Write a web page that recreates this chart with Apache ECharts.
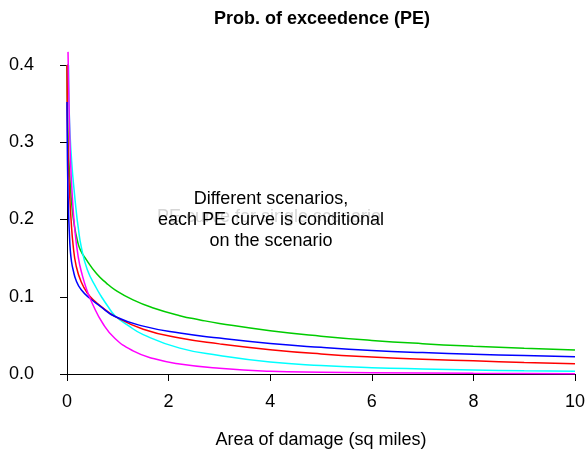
<!DOCTYPE html>
<html>
<head>
<meta charset="utf-8">
<script src="https://cdn.jsdelivr.net/npm/echarts@6/dist/echarts.min.js"></script>
<style>html,body{margin:0;padding:0;background:#fff;overflow:hidden;}#c{position:absolute;left:0;top:0;width:587px;height:450px;}</style>
</head>
<body>
<div id="c"></div>
<script>
const titleText = 'Prob. of exceedence (PE)';
const xTitle = 'Area of damage (sq miles)';
const noteLines = ['Different scenarios,', 'each PE curve is conditional', 'on the scenario'];
const ghostText = 'PE curve for single scenario';

const xGreen = [0, 0.005, 0.015, 0.03, 0.06, 0.1, 0.15, 0.2, 0.26, 0.38, 0.58, 0.77, 0.945, 1.3, 1.7, 2.22, 2.62, 3, 4, 5, 6, 7, 8, 9, 10];
const yGreen = [0.40, 0.36, 0.32, 0.285, 0.25, 0.215, 0.19, 0.174, 0.161, 0.148, 0.130, 0.118, 0.109, 0.096, 0.0855, 0.0755, 0.070, 0.0655, 0.056, 0.049, 0.0435, 0.0393, 0.036, 0.0333, 0.031];

const xCyan = [0.03, 0.04, 0.06, 0.1, 0.14, 0.18, 0.22, 0.28, 0.4, 0.58, 0.67, 0.8, 0.945, 1.2, 1.5, 2.22, 3, 4, 5, 6, 7, 8, 9, 10];
const yCyan = [0.40, 0.35, 0.31, 0.268, 0.238, 0.212, 0.19, 0.165, 0.135, 0.111, 0.101, 0.088, 0.0755, 0.063, 0.051, 0.0335, 0.024, 0.0155, 0.011, 0.0082, 0.0065, 0.0052, 0.0042, 0.0035];

const xRed = [0, 0.005, 0.015, 0.03, 0.05, 0.08, 0.12, 0.18, 0.28, 0.41, 0.55, 0.7, 0.945, 1.5, 2.22, 3, 4, 5, 6, 7, 8, 9, 10];
const yRed = [0.40, 0.345, 0.30, 0.268, 0.235, 0.20, 0.167, 0.14, 0.119, 0.104, 0.094, 0.086, 0.0745, 0.058, 0.0465, 0.039, 0.0315, 0.026, 0.022, 0.019, 0.017, 0.015, 0.0134];

const xBlue = [0, 0.005, 0.015, 0.03, 0.045, 0.065, 0.09, 0.12, 0.18, 0.28, 0.45, 0.65, 0.945, 1.5, 2.22, 3, 4, 5, 6, 7, 8, 9, 10];
const yBlue = [0.352, 0.30, 0.25, 0.21, 0.185, 0.16, 0.145, 0.135, 0.121, 0.109, 0.098, 0.088, 0.0744, 0.062, 0.053, 0.0465, 0.0395, 0.0345, 0.0305, 0.0277, 0.0256, 0.0238, 0.0222];

const xMagenta = [0.02, 0.03, 0.05, 0.07, 0.1, 0.15, 0.22, 0.3, 0.4, 0.5, 0.7, 0.945, 1.3, 1.7, 2.22, 3, 4, 5, 6, 8, 10];
const yMagenta = [0.417, 0.38, 0.32, 0.275, 0.235, 0.19, 0.152, 0.128, 0.107, 0.091, 0.066, 0.046, 0.030, 0.020, 0.013, 0.0074, 0.0035, 0.0022, 0.0017, 0.0010, 0.0004];

const xTicks = [0, 2, 4, 6, 8, 10];
const yTicks = ['0.0', '0.1', '0.2', '0.3', '0.4'];

function pairs(xs, ys) { return xs.map((x, i) => [x, ys[i]]); }

const curves = [
  { name: 'green', xs: xGreen, ys: yGreen, color: '#00CC00' },
  { name: 'cyan', xs: xCyan, ys: yCyan, color: '#00FFFF' },
  { name: 'red', xs: xRed, ys: yRed, color: '#FF0000' },
  { name: 'blue', xs: xBlue, ys: yBlue, color: '#0000FF' },
  { name: 'magenta', xs: xMagenta, ys: yMagenta, color: '#FF00FF' }
];

const FONT = 'Liberation Sans, Arial, Helvetica, sans-serif';
const chart = echarts.init(document.getElementById('c'), null, { renderer: 'canvas', width: 587, height: 450 });

const noteGraphics = noteLines.map((t, i) => ({
  type: 'text', x: 271, y: 199 + i * 21, z: 10,
  style: { text: t, fill: '#000', font: '18px ' + FONT, textAlign: 'center', textVerticalAlign: 'middle' }
}));

chart.setOption({
  animation: false,
  backgroundColor: '#fff',
  title: {
    text: titleText, left: 317, top: 5, textAlign: 'center',
    textStyle: { fontFamily: FONT, fontSize: 18, fontWeight: 'bold', color: '#000' }
  },
  grid: { left: 67, right: 12, top: 65, bottom: 76, containLabel: false, outerBoundsMode: 'none' },
  xAxis: {
    type: 'value', min: 0, max: 10, interval: 2,
    name: xTitle, nameLocation: 'middle', nameGap: 57,
    nameTextStyle: { fontFamily: FONT, fontSize: 18, color: '#000' },
    axisLine: { show: true, onZero: false, lineStyle: { color: '#000', width: 1 } },
    axisTick: { show: true, length: 7, lineStyle: { color: '#000' } },
    axisLabel: { fontFamily: FONT, fontSize: 18, color: '#000', margin: 19,
      formatter: v => xTicks.indexOf(v) >= 0 ? String(v) : '' },
    splitLine: { show: false }
  },
  yAxis: {
    type: 'value', min: 0, max: 0.4, interval: 0.1, offset: 19,
    axisLine: { show: true, lineStyle: { color: '#000', width: 1 } },
    axisTick: { show: true, length: 7, lineStyle: { color: '#000' } },
    axisLabel: { fontFamily: FONT, fontSize: 18, color: '#000', margin: 14,
      formatter: v => yTicks[Math.round(v * 10)] },
    splitLine: { show: false }
  },
  graphic: [
    { type: 'text', x: 157, y: 217, z: 5,
      style: { text: ghostText, fill: '#d6d6d6', font: '18px ' + FONT, textAlign: 'left', textVerticalAlign: 'middle' } }
  ].concat(noteGraphics),
  series: curves.map(c => ({
    name: c.name, type: 'line', data: pairs(c.xs, c.ys),
    showSymbol: false, clip: false, smooth: 0.5,
    lineStyle: { color: c.color, width: 1.5 }, itemStyle: { color: c.color }
  }))
});
</script>
</body>
</html>
